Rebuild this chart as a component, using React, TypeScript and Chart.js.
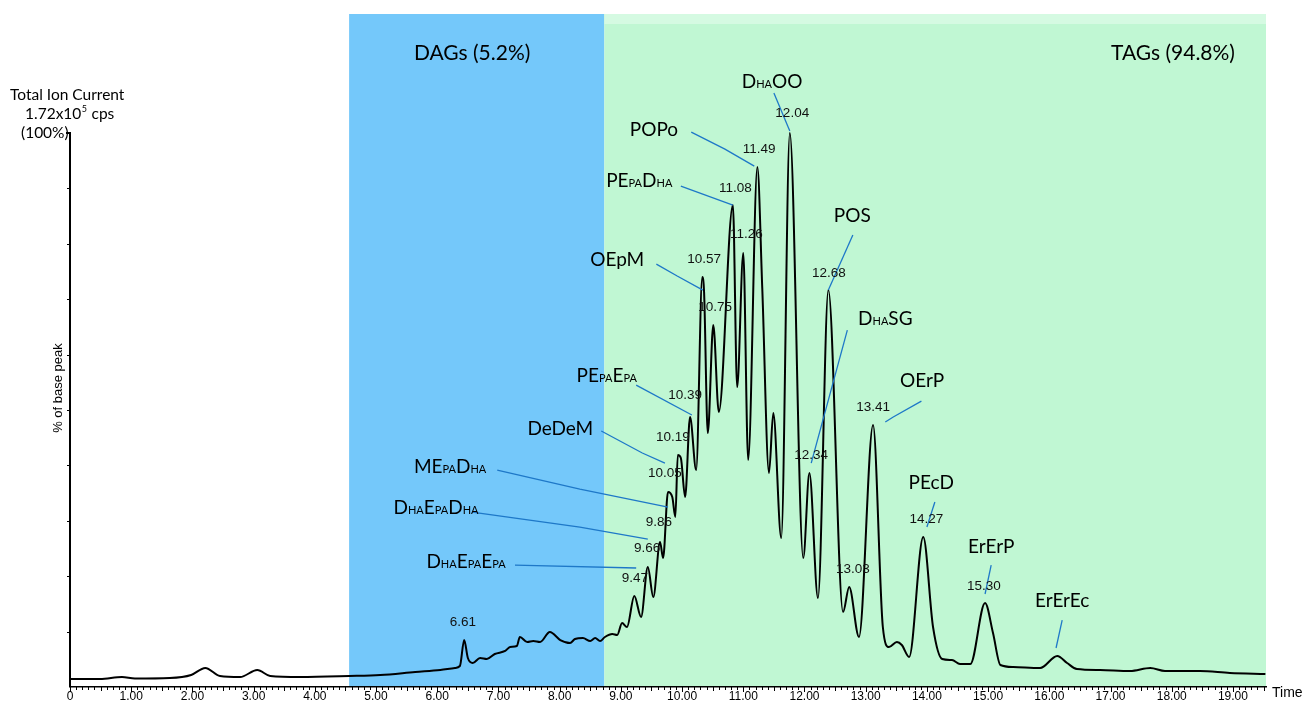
import React, { useEffect, useRef } from "react";
import { Chart, registerables } from "chart.js";

Chart.register(...registerables);

// ---- chromatogram trace (retention time in min, % of base peak) ----
const timeMin = [
  0.0, 0.49, 0.85, 1.06, 1.63, 1.98, 2.21, 2.45, 2.78, 3.06, 3.27, 3.76, 4.56, 5.07, 5.64, 6.05,
  6.29, 6.37, 6.44, 6.5, 6.58, 6.7, 6.81, 6.94, 7.11, 7.19, 7.3, 7.35, 7.47, 7.57, 7.68, 7.84,
  8.01, 8.17, 8.25, 8.38, 8.5, 8.58, 8.66, 8.74, 8.86, 8.94, 9.02, 9.1, 9.22, 9.33, 9.44, 9.53,
  9.64, 9.69, 9.77, 9.84, 9.89, 9.93, 9.98, 10.05, 10.13, 10.23, 10.33, 10.36, 10.42, 10.51,
  10.6, 10.83, 10.9, 11.0, 11.08, 11.23, 11.31, 11.42, 11.49, 11.62, 11.76, 11.98, 12.08, 12.22,
  12.39, 12.63, 12.73, 12.89, 13.12, 13.28, 13.38, 13.51, 13.59, 13.71, 13.94, 14.1, 14.25,
  14.41, 14.54, 14.71, 14.95, 15.08, 15.2, 15.41, 15.85, 16.13, 16.29, 16.45, 16.83, 17.32,
  17.65, 17.89, 18.46, 18.95, 19.53,
];
const basePeakPct = [
  1.44, 1.44, 1.81, 1.53, 1.62, 2.17, 3.43, 1.99, 1.81, 3.07, 1.99, 1.81, 1.99, 2.17, 2.71, 3.07,
  3.43, 3.79, 8.48, 5.23, 4.33, 5.23, 5.05, 5.96, 6.5, 7.22, 7.4, 9.03, 8.12, 8.3, 8.12, 9.93,
  8.48, 7.94, 8.66, 8.84, 8.3, 8.84, 8.3, 9.03, 9.57, 9.39, 11.55, 10.83, 16.43, 12.64, 21.66, 16.25,
  26.17, 23.29, 35.2, 34.3, 30.69, 41.88, 41.34, 34.3, 48.74, 39.17, 74.01, 71.12, 45.85, 65.34,
  49.64, 87.0, 54.15, 78.34, 40.97, 93.86, 72.02, 38.63, 49.46, 26.9, 100.0, 23.29, 38.63, 16.07,
  71.66, 13.54, 18.05, 9.03, 47.29, 10.83, 7.22, 8.12, 7.58, 5.42, 27.08, 10.83, 5.05,
  4.87, 4.15, 4.15, 15.16, 9.75, 3.97, 3.61, 3.43, 5.6, 4.33, 3.25, 3.07, 2.89,
  3.43, 2.89, 2.89, 2.53, 2.35,
];

// ---- axis ----
const xTickValues = [0, 1, 2, 3, 4, 5, 6, 7, 8, 9, 10, 11, 12, 13, 14, 15, 16, 17, 18, 19];
const xTickLabels = ["0", "1.00", "2.00", "3.00", "4.00", "5.00", "6.00", "7.00", "8.00", "9.00",
  "10.00", "11.00", "12.00", "13.00", "14.00", "15.00", "16.00", "17.00", "18.00", "19.00"];
const X_MAX = 19.54;
const Y_MAX = 121.5;
const yTickValues = [10, 20, 30, 40, 50, 60, 70, 80, 90, 100];

// ---- shaded regions ----
const regionNames = ["DAGs (5.2%)", "TAGs (94.8%)"];
const regionStart = [4.56, 8.73];
const regionEnd = [8.73, 19.54];
const regionLabelX = [6.57, 18.02];
const regionLabelY = [114.6, 114.6];

// ---- retention time labels ----
const rtLabels = ["6.61", "9.47", "9.66", "9.86", "10.05", "10.19", "10.39", "10.57", "10.75", "11.08",
  "11.26", "11.49", "12.04", "12.34", "12.68", "13.03", "13.41", "14.27", "15.30"];
const rtLabelX = [6.42, 9.23, 9.43, 9.62, 9.72, 9.85, 10.05, 10.36, 10.54, 10.87,
  11.05, 11.26, 11.8, 12.11, 12.4, 12.79, 13.12, 13.99, 14.93];
const rtLabelY = [11.73, 19.68, 25.09, 29.78, 38.63, 45.13, 52.71, 77.26, 68.59, 90.07,
  81.77, 97.11, 103.61, 41.88, 74.73, 21.3, 50.54, 30.32, 18.23];

// ---- compound labels ([..] = subscript-style small caps) ----
const compoundNames = ["D[HA]OO", "POPo", "PE[PA]D[HA]", "OEpM", "POS", "D[HA]SG", "OErP", "PEcD",
  "ErErP", "ErErEc", "PE[PA]E[PA]", "DeDeM", "ME[PA]D[HA]", "D[HA]E[PA]D[HA]", "D[HA]E[PA]E[PA]"];
const compoundX = [11.47, 9.54, 9.3, 8.94, 12.78, 13.32, 13.92, 14.07, 15.05, 16.21, 8.77, 8.01, 6.21, 5.98, 6.47];
const compoundY = [109.39, 100.72, 91.52, 77.26, 85.2, 66.61, 55.42, 37.0, 25.45, 15.7, 56.32, 46.75, 39.89, 32.49, 22.74];
const pointerX = [
  [11.5, 11.76], [10.15, 10.7, 11.18], [9.98, 10.83], [9.58, 9.92, 10.34], [12.79, 12.39],
  [12.7, 12.11], [13.91, 13.45, 13.32], [14.13, 14.0], [15.05, 14.95], [16.21, 16.11],
  [9.25, 10.16], [8.68, 9.35, 9.72], [6.98, 8.33, 9.77], [6.57, 8.33, 9.44], [7.27, 9.25],
];
const pointerY = [
  [107.22, 100.36], [100.18, 97.11, 94.04], [90.43, 87.0], [76.35, 74.19, 71.66], [81.59, 71.66],
  [64.44, 40.43], [51.62, 48.74, 47.83], [33.39, 28.88], [22.02, 16.79], [12.09, 7.04],
  [54.51, 49.1], [46.21, 42.24, 40.43], [39.17, 35.74, 32.49], [31.59, 28.88, 26.71], [22.02, 21.48],
];

const LABEL_FONT = "Lato";
const NUM_FONT = "'Liberation Sans'";

function parseRuns(s: string) {
  const runs: { t: string; small: boolean }[] = [];
  const re = /\[([^\]]*)\]|([^\[]+)/g;
  let m: RegExpExecArray | null;
  while ((m = re.exec(s))) {
    if (m[1] !== undefined) runs.push({ t: m[1], small: true });
    else runs.push({ t: m[2], small: false });
  }
  return runs;
}

function drawRuns(ctx: CanvasRenderingContext2D, s: string, cx: number, cy: number, big: number, small: number) {
  const runs = parseRuns(s);
  const bigF = `${big}px ${LABEL_FONT}`;
  const smallF = `${small}px ${LABEL_FONT}`;
  let w = 0;
  runs.forEach((r) => {
    ctx.font = r.small ? smallF : bigF;
    w += ctx.measureText(r.t).width;
  });
  let x = cx - w / 2;
  const baseline = cy + big * 0.36;
  ctx.textAlign = "left";
  ctx.textBaseline = "alphabetic";
  runs.forEach((r) => {
    ctx.font = r.small ? smallF : bigF;
    ctx.fillText(r.t, x, baseline);
    x += ctx.measureText(r.t).width;
  });
}

const overlayPlugin = {
  id: "overlay",
  beforeDraw(chart: any) {
    const { ctx, chartArea } = chart;
    const x = chart.scales.x;
    const y = chart.scales.y;
    const top = chartArea.top;
    const bottom = y.getPixelForValue(0);
    ctx.save();
    const colors = ["#74C8FA", "#C0F7D3"];
    regionStart.forEach((s, i) => {
      const x0 = x.getPixelForValue(s);
      const x1 = x.getPixelForValue(regionEnd[i]);
      ctx.fillStyle = colors[i];
      ctx.fillRect(x0, top, x1 - x0, bottom - top);
    });
    const g0 = x.getPixelForValue(regionStart[1]);
    const g1 = x.getPixelForValue(regionEnd[1]);
    ctx.fillStyle = "#D5FAE2";
    ctx.fillRect(g0, top, g1 - g0, 10);
    ctx.restore();
  },
  afterDraw(chart: any) {
    const { ctx, chartArea } = chart;
    const x = chart.scales.x;
    const y = chart.scales.y;
    const left = chartArea.left;
    const y0 = y.getPixelForValue(0);
    const y100 = y.getPixelForValue(100);
    ctx.save();
    ctx.strokeStyle = "#000";
    ctx.lineWidth = 2;
    ctx.beginPath();
    ctx.moveTo(left, y0);
    ctx.lineTo(left, y100);
    ctx.lineTo(left - 4, y100);
    ctx.stroke();
    ctx.lineWidth = 1;
    yTickValues.forEach((v) => {
      const py = Math.round(y.getPixelForValue(v)) + 0.5;
      ctx.beginPath();
      ctx.moveTo(left - 3, py);
      ctx.lineTo(left, py);
      ctx.stroke();
    });
    for (let i = 0; i <= Math.floor(X_MAX * 10); i++) {
      const px = Math.round(x.getPixelForValue(i / 10)) + 0.5;
      const len = i % 10 === 0 ? 5 : i % 5 === 0 ? 4 : 3;
      ctx.beginPath();
      ctx.moveTo(px, y0);
      ctx.lineTo(px, y0 + len);
      ctx.stroke();
    }
    ctx.fillStyle = "#000";
    ctx.font = `14px ${NUM_FONT}`;
    ctx.textAlign = "left";
    ctx.textBaseline = "middle";
    ctx.fillText("Time", 1272, 693);
    ctx.save();
    ctx.translate(58, 388);
    ctx.rotate(-Math.PI / 2);
    ctx.font = `13px ${NUM_FONT}`;
    ctx.textAlign = "center";
    ctx.fillText("% of base peak", 0, 0);
    ctx.restore();
    ctx.font = `15.5px ${LABEL_FONT}`;
    ctx.textAlign = "left";
    ctx.textBaseline = "middle";
    ctx.fillText("Total Ion Current", 10, 95);
    const t1 = "1.72x10";
    ctx.fillText(t1, 25, 114);
    const w1 = ctx.measureText(t1).width;
    ctx.font = `9px ${LABEL_FONT}`;
    ctx.fillText("5", 25 + w1 + 0.5, 109);
    const w2 = ctx.measureText("5").width;
    ctx.font = `15.5px ${LABEL_FONT}`;
    ctx.fillText(" cps", 25 + w1 + w2 + 1, 114);
    ctx.fillText("(100%)", 21, 133);

    regionNames.forEach((n, i) => {
      drawRuns(ctx, n, x.getPixelForValue(regionLabelX[i]), y.getPixelForValue(regionLabelY[i]), 21, 12);
    });

    ctx.strokeStyle = "#1E78C8";
    ctx.lineWidth = 1.3;
    pointerX.forEach((xs, i) => {
      ctx.beginPath();
      xs.forEach((v, j) => {
        const px = x.getPixelForValue(v);
        const py = y.getPixelForValue(pointerY[i][j]);
        if (j === 0) ctx.moveTo(px, py);
        else ctx.lineTo(px, py);
      });
      ctx.stroke();
    });

    ctx.fillStyle = "#000";
    compoundNames.forEach((n, i) => {
      drawRuns(ctx, n, x.getPixelForValue(compoundX[i]), y.getPixelForValue(compoundY[i]), 19, 11);
    });

    ctx.font = `13.5px ${NUM_FONT}`;
    ctx.textAlign = "center";
    ctx.textBaseline = "middle";
    ctx.fillStyle = "#111";
    rtLabels.forEach((l, i) => {
      ctx.fillText(l, x.getPixelForValue(rtLabelX[i]), y.getPixelForValue(rtLabelY[i]));
    });
    ctx.restore();
  },
};

export default function App() {
  const ref = useRef<HTMLCanvasElement>(null);
  useEffect(() => {
    if (!ref.current) return;
    const chart = new Chart(ref.current, {
      type: "line",
      data: {
        datasets: [
          {
            label: "TIC",
            data: timeMin.map((t, i) => ({ x: t, y: basePeakPct[i] })),
            borderColor: "#000",
            borderWidth: 2,
            pointRadius: 0,
            fill: false,
            cubicInterpolationMode: "monotone",
          },
        ],
      },
      options: {
        animation: false,
        responsive: false,
        events: [],
        layout: { padding: { left: 0, right: 37, top: 14, bottom: 0 } },
        plugins: { legend: { display: false }, tooltip: { enabled: false } },
        scales: {
          x: {
            type: "linear",
            min: 0,
            max: X_MAX,
            afterBuildTicks: (s: any) => {
              s.ticks = xTickValues.map((v) => ({ value: v }));
            },
            afterFit: (s: any) => {
              s.height = 18;
            },
            ticks: {
              autoSkip: false,
              maxRotation: 0,
              padding: 2,
              color: "#000",
              font: { family: "Liberation Sans", size: 12 },
              callback: (_v: any, i: number) => xTickLabels[i],
            },
            grid: { display: false, drawTicks: false },
            border: { display: true, color: "#000", width: 1.5 },
          },
          y: {
            type: "linear",
            min: 0,
            max: Y_MAX,
            afterFit: (s: any) => {
              s.width = 70;
            },
            ticks: { display: false },
            grid: { display: false, drawTicks: false },
            border: { display: false },
          },
        },
      },
      plugins: [overlayPlugin],
    } as any);
    return () => chart.destroy();
  }, []);
  return (
    <div style={{ position: "fixed", left: 0, top: 0, width: 1303, height: 705, background: "#fff" }}>
      <canvas ref={ref} width={1303} height={705} style={{ display: "block" }} />
    </div>
  );
}
